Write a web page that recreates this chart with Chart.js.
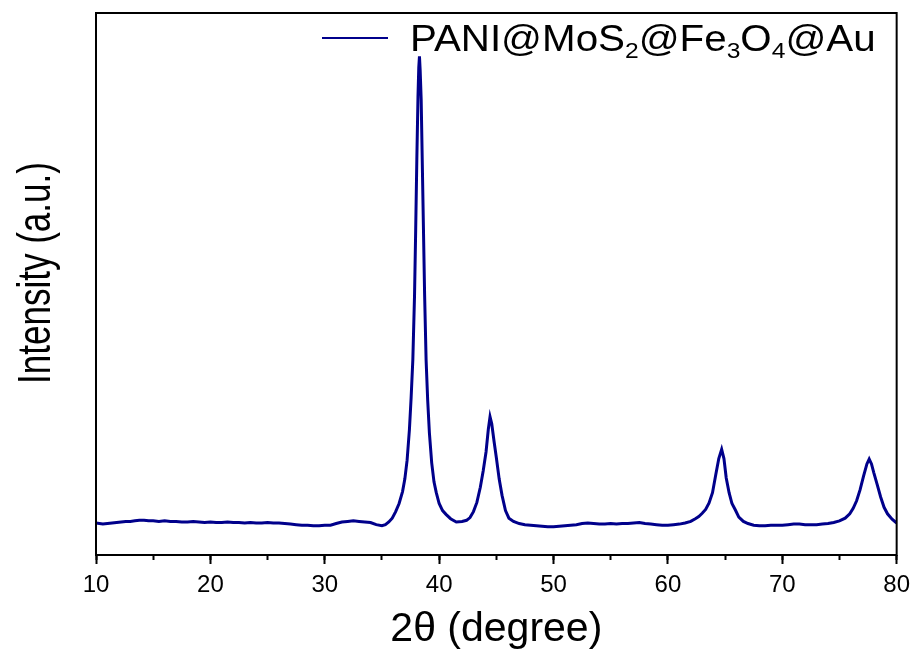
<!DOCTYPE html>
<html><head><meta charset="utf-8">
<script src="https://cdn.jsdelivr.net/npm/chart.js@4/dist/chart.umd.min.js"></script>
<style>html,body{margin:0;padding:0;background:#fff;}#wrap{width:917px;height:652px;}</style>
</head><body><div id="wrap"><canvas id="c" width="917" height="652"></canvas></div>
<script>
// ---- data ----
const twoTheta = [
 10.0,10.3,10.6,11.0,11.4,11.8,12.2,12.6,13.0,13.4,13.8,14.2,14.6,15.0,15.5,16.0,16.5,17.0,17.5,18.0,
 18.5,19.0,19.5,20.0,20.5,21.0,21.5,22.0,22.5,23.0,23.5,24.0,24.5,25.0,25.5,26.0,26.5,27.0,27.5,28.0,
 28.5,29.0,29.5,30.0,30.5,31.0,31.5,32.0,32.5,33.0,33.5,34.0,34.5,35.0,35.3,35.6,35.9,36.2,36.5,36.8,
 37.0,37.2,37.4,37.55,37.7,37.85,37.95,38.05,38.15,38.22,38.28,38.34,38.43,38.53,38.63,38.73,38.86,39.0,39.15,39.35,
 39.55,39.75,40.0,40.3,40.6,41.0,41.5,42.0,42.4,42.7,43.0,43.3,43.6,43.85,44.1,44.3,44.45,44.6,44.8,45.0,
 45.25,45.5,45.8,46.1,46.5,47.0,47.5,48.0,48.5,49.0,49.5,50.0,50.5,51.0,51.5,52.0,52.5,53.0,53.5,54.0,
 54.5,55.0,55.5,56.0,56.5,57.0,57.5,58.0,58.5,59.0,59.5,60.0,60.5,61.0,61.5,62.0,62.4,62.7,63.0,63.3,
 63.6,63.9,64.2,64.45,64.7,64.9,65.1,65.35,65.6,65.9,66.2,66.6,67.0,67.5,68.0,68.5,69.0,69.5,70.0,70.5,
 71.0,71.5,72.0,72.5,73.0,73.5,74.0,74.5,75.0,75.5,75.9,76.2,76.5,76.8,77.1,77.4,77.6,77.8,78.0,78.3,
 78.6,78.9,79.2,79.6,80.0
];
const intensity = [
 59,58,57,58,59,60,61,62,62,63,64,64,63,63,62,63,62,62,61,61,
 62,61,60,61,60,60,61,60,60,59,60,59,59,60,59,59,58,57,56,55,
 55,54,54,55,55,58,61,62,63,62,61,60,56,54,56,61,68,80,95,117,
 140,175,231,290,360,480,600,730,845,900,920,895,840,720,600,480,360,285,225,170,
 135,115,95,82,75,67,61,62,64,69,80,97,125,155,190,232,255,242,210,180,
 140,110,82,68,62,58,56,55,54,53,52,52,53,54,55,56,58,59,58,57,
 57,58,57,58,58,59,60,58,57,56,55,55,56,57,59,62,67,71,77,84,
 96,115,150,178,195,178,142,115,95,83,70,62,58,55,54,54,55,55,55,56,
 57,57,56,56,56,57,58,60,63,68,76,86,100,120,145,168,177,168,152,130,
 107,88,76,66,59
];
const xMajorTicks = [10, 20, 30, 40, 50, 60, 70, 80];
const xMinorStep = 5;
const seriesName = 'PANI@MoS2@Fe3O4@Au';
const xTitle = '2\u03B8 (degree)';
const yTitle = 'Intensity (a.u.)';

const points = twoTheta.map((x, i) => ({x, y: intensity[i]}));
const FONT = '"Liberation Sans", Arial, sans-serif';

const framePlugin = {
  id: 'frameAndLegend',
  afterDatasetsDraw(chart) {
    const {ctx, chartArea: a} = chart;
    ctx.save();
    ctx.strokeStyle = '#000';
    ctx.lineWidth = 2;
    ctx.strokeRect(a.left, a.top, a.right - a.left, a.bottom - a.top);

    // legend (inside plot, top right)
    const ds = chart.data.datasets[0];
    const ly = a.top + 25;
    ctx.strokeStyle = ds.borderColor;
    ctx.lineWidth = 2;
    ctx.beginPath();
    ctx.moveTo(a.left + 226, ly);
    ctx.lineTo(a.left + 292, ly);
    ctx.stroke();
    const fs = 36, sx = 1.12;
    ctx.save();
    ctx.translate(a.left + 314, ly + 13);
    ctx.scale(sx, 1);
    let x = 0;
    ctx.fillStyle = '#000';
    ctx.textBaseline = 'alphabetic';
    ctx.textAlign = 'left';
    ds.label.split(/(\d+)/).filter(s => s.length).forEach(part => {
      const sub = /^\d+$/.test(part);
      ctx.font = (sub ? Math.round(fs * 0.62) : fs) + 'px ' + FONT;
      ctx.fillText(part, x, sub ? fs * 0.2 : 0);
      x += ctx.measureText(part).width;
    });
    ctx.restore();

    // y-axis title (rotated)
    const ys = chart.scales.y;
    ctx.save();
    ctx.translate(ys.left + 50, (a.top + a.bottom) / 2 - 11);
    ctx.rotate(-Math.PI / 2);
    ctx.scale(1, 1.3);
    ctx.font = '35px ' + FONT;
    ctx.fillStyle = '#000';
    ctx.textAlign = 'center';
    ctx.textBaseline = 'alphabetic';
    ctx.fillText(ys.options.title.text, 0, 0);
    ctx.restore();
    ctx.restore();
  }
};

new Chart(document.getElementById('c'), {
  type: 'scatter',
  data: { datasets: [{
    label: seriesName,
    data: points,
    showLine: true,
    borderColor: '#00008B',
    backgroundColor: '#00008B',
    borderWidth: 3,
    pointRadius: 0,
    tension: 0
  }]},
  options: {
    responsive: false,
    animation: false,
    devicePixelRatio: 1,
    layout: { padding: { left: 0, right: 20, top: 13, bottom: 0 } },
    plugins: { legend: { display: false }, tooltip: { enabled: false } },
    scales: {
      x: {
        type: 'linear', position: 'bottom', weight: 1,
        min: 10, max: 80,
        afterBuildTicks: s => { s.ticks = xMajorTicks.map(v => ({value: v})); },
        ticks: { font: { family: FONT, size: 24 }, color: '#000', padding: 7, maxRotation: 0 },
        grid: { display: true, drawOnChartArea: false, drawTicks: true, tickLength: 9, tickWidth: 2, tickColor: '#000' },
        border: { display: false },
        title: { display: true, text: xTitle, color: '#000', font: { family: FONT, size: 41 }, padding: { top: 0, bottom: -2 } },
        afterFit: s => { s.height = 97; }
      },
      xMinor: {
        type: 'linear', position: 'bottom', weight: 0,
        min: 10, max: 80,
        ticks: { display: false, stepSize: xMinorStep },
        grid: { display: true, drawOnChartArea: false, drawTicks: true, tickLength: 5, tickWidth: 2, tickColor: '#000' },
        border: { display: false },
        afterFit: s => { s.height = 0; }
      },
      y: {
        type: 'linear', position: 'left',
        min: 0, max: 1000,
        ticks: { display: false },
        grid: { display: false },
        border: { display: false },
        title: { display: false, text: yTitle },
        afterFit: s => { s.width = 96; }
      }
    }
  },
  plugins: [framePlugin]
});
</script>
</body></html>
